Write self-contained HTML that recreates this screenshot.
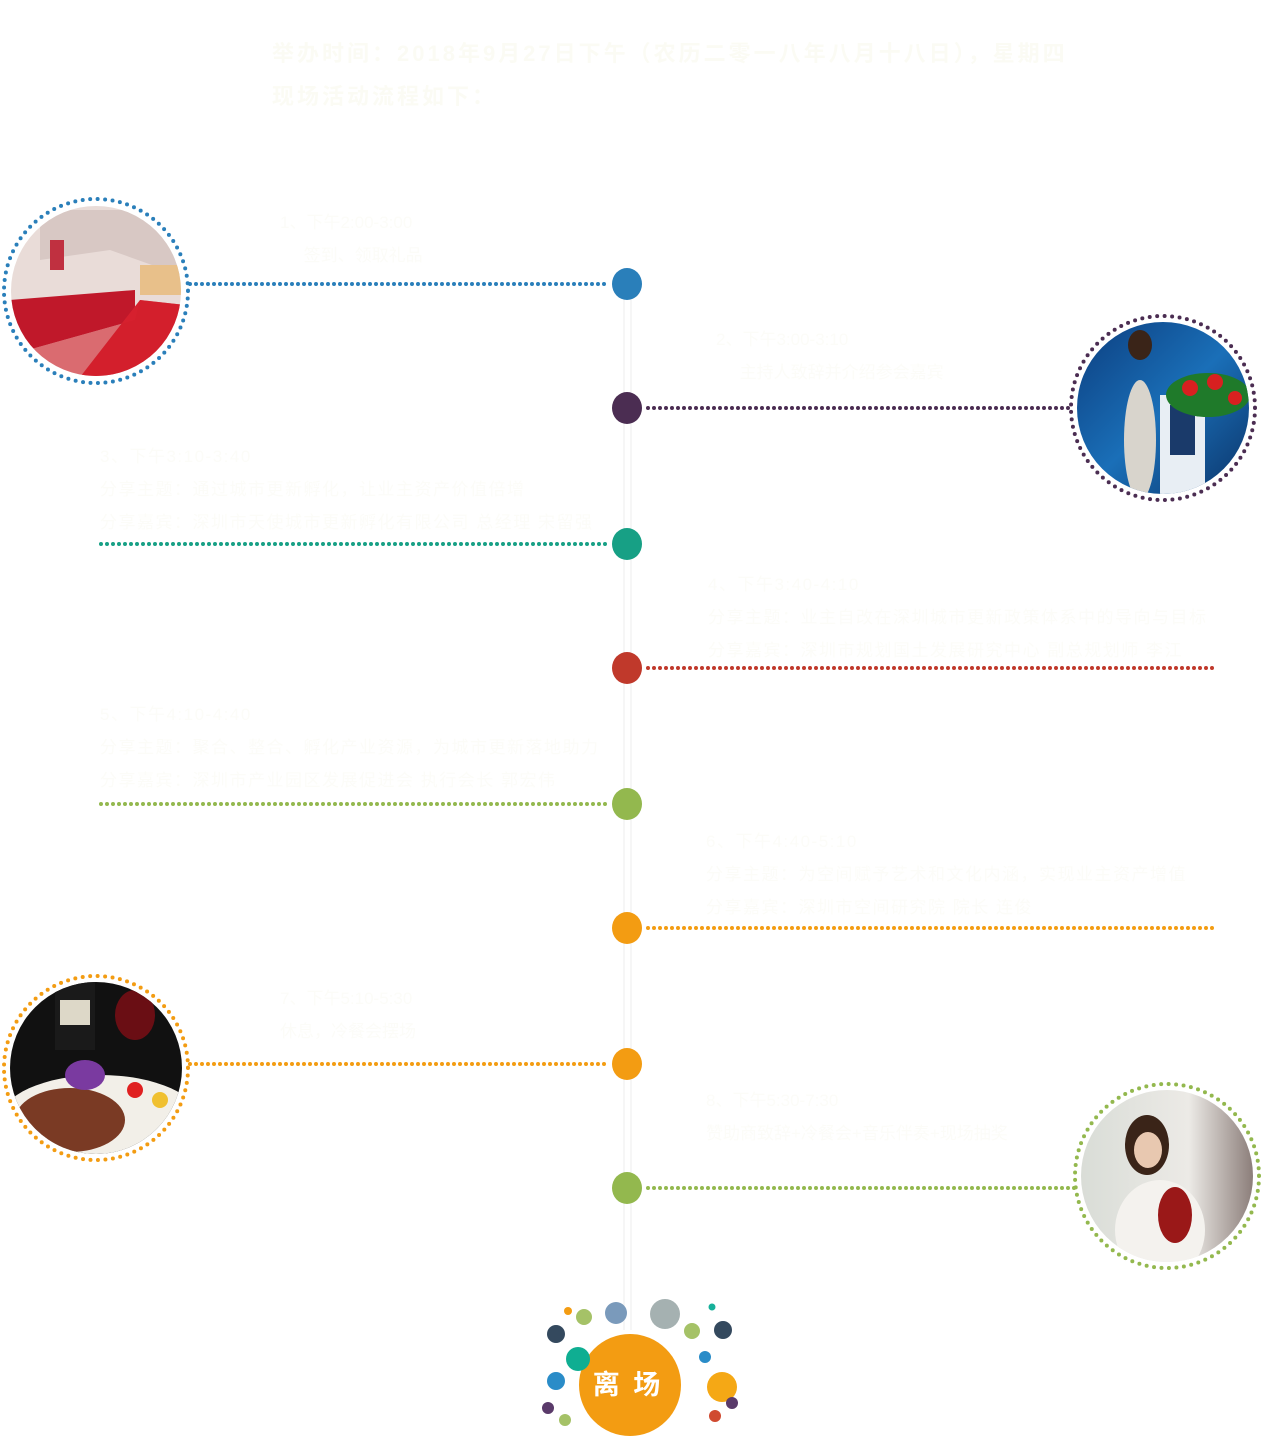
<!DOCTYPE html>
<html><head><meta charset="utf-8"><style>
html,body{margin:0;padding:0;background:#fff;}
body{width:1267px;height:1436px;position:relative;overflow:hidden;font-family:"Liberation Sans","Noto Sans CJK SC",sans-serif;}
.t{position:absolute;color:#fcfcf8;font-size:17px;line-height:33px;white-space:nowrap;}
.h{position:absolute;color:#fbfbf4;font-size:22px;font-weight:bold;white-space:nowrap;letter-spacing:3px;}
</style></head><body>
<svg width="1267" height="1436" style="position:absolute;left:0;top:0">
<defs>
<clipPath id="c1"><circle cx="96" cy="291" r="85"/></clipPath>
<clipPath id="c2"><circle cx="1163" cy="408" r="86"/></clipPath>
<clipPath id="c3"><circle cx="96" cy="1068" r="86"/></clipPath>
<clipPath id="c4"><circle cx="1167" cy="1176" r="86"/></clipPath>
<linearGradient id="g2" x1="0" y1="0" x2="1" y2="1"><stop offset="0" stop-color="#0b3a7a"/><stop offset=".5" stop-color="#1a6fb8"/><stop offset="1" stop-color="#0a2c5e"/></linearGradient>
<linearGradient id="g4" x1="0" y1="0" x2="1" y2="0"><stop offset="0" stop-color="#d8dcd6"/><stop offset=".6" stop-color="#eceae6"/><stop offset="1" stop-color="#7a6a66"/></linearGradient>
</defs>
<line x1="624" y1="270" x2="624" y2="1330" stroke="#eee" stroke-width="1"/>
<line x1="631" y1="270" x2="631" y2="1330" stroke="#eee" stroke-width="1"/>
<g stroke-width="4" stroke-linecap="round" stroke-dasharray="0 6" fill="none">
<line x1="190" y1="284" x2="608" y2="284" stroke="#2a7fba"/>
<line x1="648" y1="408" x2="1070" y2="408" stroke="#4b2d52"/>
<line x1="101" y1="544" x2="608" y2="544" stroke="#17a085"/>
<line x1="648" y1="668" x2="1218" y2="668" stroke="#c0392b"/>
<line x1="101" y1="804" x2="608" y2="804" stroke="#93b84e"/>
<line x1="648" y1="928" x2="1214" y2="928" stroke="#f39c12"/>
<line x1="190" y1="1064" x2="608" y2="1064" stroke="#f39c12"/>
<line x1="648" y1="1188" x2="1075" y2="1188" stroke="#93b84e"/>
</g>
<ellipse cx="627" cy="284" rx="15" ry="16" fill="#2a7fba"/>
<ellipse cx="627" cy="408" rx="15" ry="16" fill="#4b2d52"/>
<ellipse cx="627" cy="544" rx="15" ry="16" fill="#17a085"/>
<ellipse cx="627" cy="668" rx="15" ry="16" fill="#c0392b"/>
<ellipse cx="627" cy="804" rx="15" ry="16" fill="#93b84e"/>
<ellipse cx="627" cy="928" rx="15" ry="16" fill="#f39c12"/>
<ellipse cx="627" cy="1064" rx="15" ry="16" fill="#f39c12"/>
<ellipse cx="627" cy="1188" rx="15" ry="16" fill="#93b84e"/>
<g clip-path="url(#c1)">
<rect x="0" y="200" width="200" height="200" fill="#e9dcd8"/>
<polygon points="40,210 180,210 180,275 110,250 40,260" fill="#d8c8c4"/>
<rect x="140" y="265" width="45" height="30" fill="#e8c08a"/>
<polygon points="10,300 135,290 135,320 10,355" fill="#c0182a"/>
<polygon points="10,390 70,390 140,300 185,305 185,390" fill="#d6202e"/>
<polygon points="10,355 135,320 140,300 185,305 180,390 10,390" fill="#d0202c" opacity=".6"/>
<rect x="50" y="240" width="14" height="30" fill="#c03040"/>
</g>
<circle cx="96" cy="291" r="92" fill="none" stroke="#2a7fba" stroke-width="4" stroke-linecap="round" stroke-dasharray="0 7.5"/>
<g clip-path="url(#c2)">
<rect x="1070" y="315" width="190" height="190" fill="url(#g2)"/>
<rect x="1160" y="395" width="45" height="110" fill="#e8eef4"/>
<rect x="1170" y="405" width="25" height="50" fill="#1a3a6a"/>
<ellipse cx="1208" cy="395" rx="42" ry="22" fill="#1f7a2a"/>
<circle cx="1190" cy="388" r="8" fill="#d82020"/><circle cx="1215" cy="382" r="8" fill="#d82020"/><circle cx="1235" cy="398" r="7" fill="#d82020"/>
<ellipse cx="1140" cy="345" rx="12" ry="15" fill="#3a2418"/>
<ellipse cx="1140" cy="440" rx="16" ry="60" fill="#d8d4cc"/>
</g>
<circle cx="1163" cy="408" r="92" fill="none" stroke="#4b2d52" stroke-width="4" stroke-linecap="round" stroke-dasharray="0 7.5"/>
<g clip-path="url(#c3)">
<rect x="0" y="975" width="200" height="190" fill="#111"/>
<rect x="55" y="980" width="40" height="70" fill="#1a1a1a"/>
<rect x="60" y="1000" width="30" height="25" fill="#ddd8c8"/>
<ellipse cx="135" cy="1015" rx="20" ry="25" fill="#6a0e14"/>
<ellipse cx="100" cy="1120" rx="100" ry="45" fill="#f2efe8"/>
<ellipse cx="70" cy="1120" rx="55" ry="32" fill="#7a3a24"/>
<ellipse cx="85" cy="1075" rx="20" ry="15" fill="#7a3aa0"/>
<circle cx="135" cy="1090" r="8" fill="#e02020"/><circle cx="160" cy="1100" r="8" fill="#f0c030"/>
</g>
<circle cx="96" cy="1068" r="92" fill="none" stroke="#f39c12" stroke-width="4" stroke-linecap="round" stroke-dasharray="0 7.5"/>
<g clip-path="url(#c4)">
<rect x="1075" y="1085" width="190" height="190" fill="url(#g4)"/>
<ellipse cx="1147" cy="1145" rx="22" ry="30" fill="#3a2418"/>
<ellipse cx="1148" cy="1150" rx="14" ry="18" fill="#e8c8b0"/>
<ellipse cx="1160" cy="1230" rx="45" ry="50" fill="#f4f2ee"/>
<ellipse cx="1175" cy="1215" rx="17" ry="28" fill="#9a1818"/>
</g>
<circle cx="1167" cy="1176" r="92" fill="none" stroke="#93b84e" stroke-width="4" stroke-linecap="round" stroke-dasharray="0 7.5"/>
<circle cx="568" cy="1311" r="4" fill="#f39c12"/>
<circle cx="584" cy="1317" r="8" fill="#a5c267"/>
<circle cx="556" cy="1334" r="9" fill="#34495e"/>
<circle cx="616" cy="1313" r="11" fill="#7a9abb"/>
<circle cx="665" cy="1314" r="15" fill="#a5b1b1"/>
<circle cx="712" cy="1307" r="3.5" fill="#16b09a"/>
<circle cx="692" cy="1331" r="8" fill="#a5c267"/>
<circle cx="723" cy="1330" r="9" fill="#34495e"/>
<circle cx="705" cy="1357" r="6" fill="#2a8cc8"/>
<circle cx="556" cy="1381" r="9" fill="#2a8cc8"/>
<circle cx="722" cy="1387" r="15" fill="#f5a815"/>
<circle cx="548" cy="1408" r="6" fill="#5a3a6a"/>
<circle cx="732" cy="1403" r="6" fill="#5a3a6a"/>
<circle cx="565" cy="1420" r="6" fill="#a5c267"/>
<circle cx="715" cy="1416" r="6" fill="#d04a30"/>
<circle cx="630" cy="1385" r="51" fill="#f39c12"/>
<circle cx="578" cy="1359" r="12" fill="#0fae92"/>
<text x="628" y="1394" text-anchor="middle" fill="#fff" font-size="27" font-weight="bold" font-family="Liberation Sans, Noto Sans CJK SC, sans-serif" letter-spacing="3">离 场</text>
</svg>
<div class="h" style="left:272px;top:36px">举办时间：2018年9月27日下午（农历二零一八年八月十八日），星期四</div>
<div class="h" style="left:272px;top:79px">现场活动流程如下：</div>
<div class="t" style="left:280px;top:206px">1、下午2:00-3:00<br>&nbsp;&nbsp;&nbsp;&nbsp;&nbsp;签到、领取礼品</div>
<div class="t" style="left:716px;top:323px">2、下午3:00-3:10<br>&nbsp;&nbsp;&nbsp;&nbsp;&nbsp;主持人致辞并介绍参会嘉宾</div>
<div class="t" style="left:100px;top:440px;letter-spacing:1.5px">3、下午3:10-3:40<br>分享主题：通过城市更新孵化，让业主资产价值倍增<br>分享嘉宾：深圳市天使城市更新孵化有限公司 总经理 宋留强</div>
<div class="t" style="left:708px;top:568px;letter-spacing:1.5px">4、下午3:40-4:10<br>分享主题：业主自改在深圳城市更新政策体系中的导向与目标<br>分享嘉宾：深圳市规划国土发展研究中心 副总规划师 李江</div>
<div class="t" style="left:100px;top:698px;letter-spacing:1.5px">5、下午4:10-4:40<br>分享主题：聚合、整合、孵化产业资源，为城市更新落地助力<br>分享嘉宾：深圳市产业园区发展促进会 执行会长 郭宏伟</div>
<div class="t" style="left:706px;top:825px;letter-spacing:1.5px">6、下午4:40-5:10<br>分享主题：为空间赋予艺术和文化内涵，实现业主资产增值<br>分享嘉宾：深圳市空间研究院 院长 连俊</div>
<div class="t" style="left:280px;top:982px">7、下午5:10-5:30<br>休息，冷餐会摆场</div>
<div class="t" style="left:706px;top:1084px">8、下午5:30-7:30<br>赞助商致辞+冷餐会+音乐伴奏+现场抽奖</div>
</body></html>
